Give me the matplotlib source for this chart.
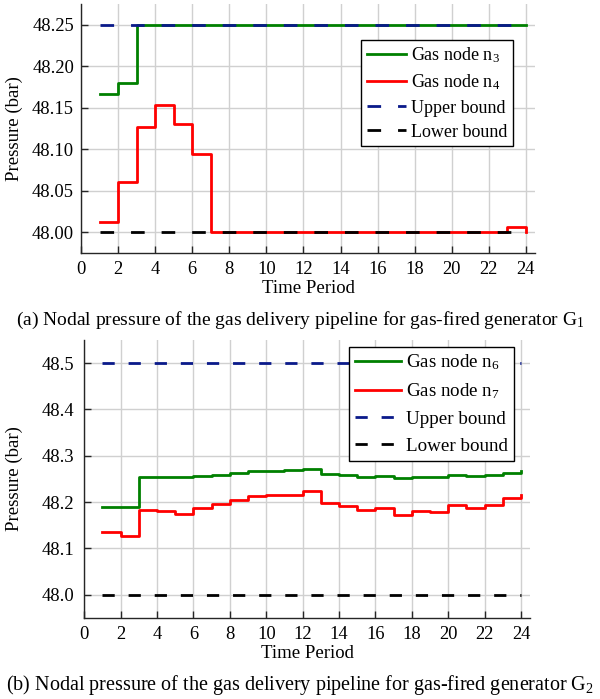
import numpy as np
import matplotlib
matplotlib.use("Agg")
import matplotlib.pyplot as plt

SERIF = ['Liberation Serif', 'DejaVu Serif']
plt.rcParams['font.family'] = SERIF
plt.rcParams['mathtext.fontset'] = 'custom'
plt.rcParams['mathtext.rm'] = 'Liberation Serif'
plt.rcParams['mathtext.it'] = 'Liberation Serif:italic'
plt.rcParams['font.size'] = 13

# time periods
periods = list(range(1, 25))

# generator G1 pipeline
p_n3 = [48.167, 48.180, 48.250, 48.250, 48.250, 48.250, 48.250, 48.250,
        48.250, 48.250, 48.250, 48.250, 48.250, 48.250, 48.250, 48.250,
        48.250, 48.250, 48.250, 48.250, 48.250, 48.250, 48.250, 48.250]
p_n4 = [48.012, 48.061, 48.127, 48.153, 48.130, 48.094, 48.000, 48.000,
        48.000, 48.000, 48.000, 48.000, 48.000, 48.000, 48.000, 48.000,
        48.000, 48.000, 48.000, 48.000, 48.000, 48.000, 48.006, 48.000]
bounds_a = (48.00, 48.25)

# generator G2 pipeline
p_n6 = [48.189, 48.189, 48.254, 48.255, 48.254, 48.257, 48.259, 48.262,
        48.267, 48.267, 48.269, 48.271, 48.261, 48.258, 48.255, 48.257,
        48.253, 48.254, 48.254, 48.258, 48.257, 48.258, 48.264, 48.267]
p_n7 = [48.135, 48.126, 48.183, 48.181, 48.175, 48.188, 48.196, 48.205,
        48.213, 48.215, 48.216, 48.225, 48.198, 48.192, 48.182, 48.188,
        48.172, 48.180, 48.178, 48.194, 48.188, 48.194, 48.208, 48.215]
bounds_b = (48.0, 48.5)

GREEN = '#008000'
RED = '#ff0000'
NAVY = '#0a1a8a'
GRID = '#d0d0d0'


def style_axes(ax, yticks, fmt, ylim, ypad, ylab_x):
	ax.set_xlim(0, 24.5)
	ax.set_ylim(*ylim)
	ax.set_xticks(range(0, 25, 2))
	ax.set_yticks(yticks)
	ax.set_yticklabels([fmt % v for v in yticks])
	ax.grid(True, color=GRID, linewidth=1.0)
	ax.set_axisbelow(True)
	for s in ('top', 'right'):
		ax.spines[s].set_visible(False)
	for s in ('left', 'bottom'):
		ax.spines[s].set_color('#262626')
		ax.spines[s].set_linewidth(1.0)
	ax.tick_params(direction='in', length=5, width=1.0, colors='#262626',
				   labelcolor='black', labelsize=13.3)
	ax.tick_params(axis='y', pad=ypad)
	ax.tick_params(axis='x', pad=6)
	ax.set_xlabel('Time Period', labelpad=1, fontsize=13.5)
	ax.set_ylabel('Pressure (bar)', fontsize=13.5)
	ax.yaxis.set_label_coords(ylab_x, 0.5)


def draw_panel(ax, a, b, names, bounds, dash):
	ax.step(periods, a, where='post', color=GREEN, lw=2, label=names[0])
	ax.step(periods, b, where='post', color=RED, lw=2, label=names[1])
	ax.plot([periods[0], periods[-1]], [bounds[1]] * 2, color=NAVY, lw=2,
			dashes=dash, label='Upper bound')
	ax.plot([periods[0], periods[-1]], [bounds[0]] * 2, color='black', lw=2,
			dashes=dash, label='Lower bound')


fig = plt.figure(figsize=(6.0, 6.99), dpi=100)

ax1 = fig.add_axes([0.135, 0.638, 0.757, 0.356])
draw_panel(ax1, p_n3, p_n4, ['Gas node n$_3$', 'Gas node n$_4$'], bounds_a, (4.9, 6.1))
style_axes(ax1, np.arange(48.00, 48.26, 0.05), '%.2f', (47.975, 48.275), 5, -0.128)
leg1 = ax1.legend(loc='upper left', bbox_to_anchor=(0.617, 0.855), fancybox=False,
				  edgecolor='black', framealpha=1, handlelength=2.2, handletextpad=0.25,
				  labelspacing=0.4, borderpad=0.3, borderaxespad=0, fontsize=13)
leg1.get_frame().set_linewidth(1.0)

ax2 = fig.add_axes([0.1405, 0.1159, 0.743, 0.3977])
draw_panel(ax2, p_n6, p_n7, ['Gas node n$_6$', 'Gas node n$_7$'], bounds_b, (4.4, 5.0))
style_axes(ax2, np.arange(48.0, 48.51, 0.1), '%.1f', (47.95, 48.55), 7, -0.1375)
leg2 = ax2.legend(loc='upper left', bbox_to_anchor=(0.594, 0.976), fancybox=False,
				  edgecolor='black', framealpha=1, handlelength=2.45, handletextpad=0.25,
				  labelspacing=0.5, borderpad=0.3, borderaxespad=0, fontsize=13.7)
leg2.get_frame().set_linewidth(1.0)

fig.text(0.5, 1 - 320 / 699, '(a) Nodal pressure of the gas delivery pipeline for gas-fired generator G$_1$',
		 ha='center', va='center', fontsize=14)
fig.text(0.5, 1 - 685 / 699, '(b) Nodal pressure of the gas delivery pipeline for gas-fired generator G$_2$',
		 ha='center', va='center', fontsize=14.5)

fig.savefig('out.png', dpi=100)
